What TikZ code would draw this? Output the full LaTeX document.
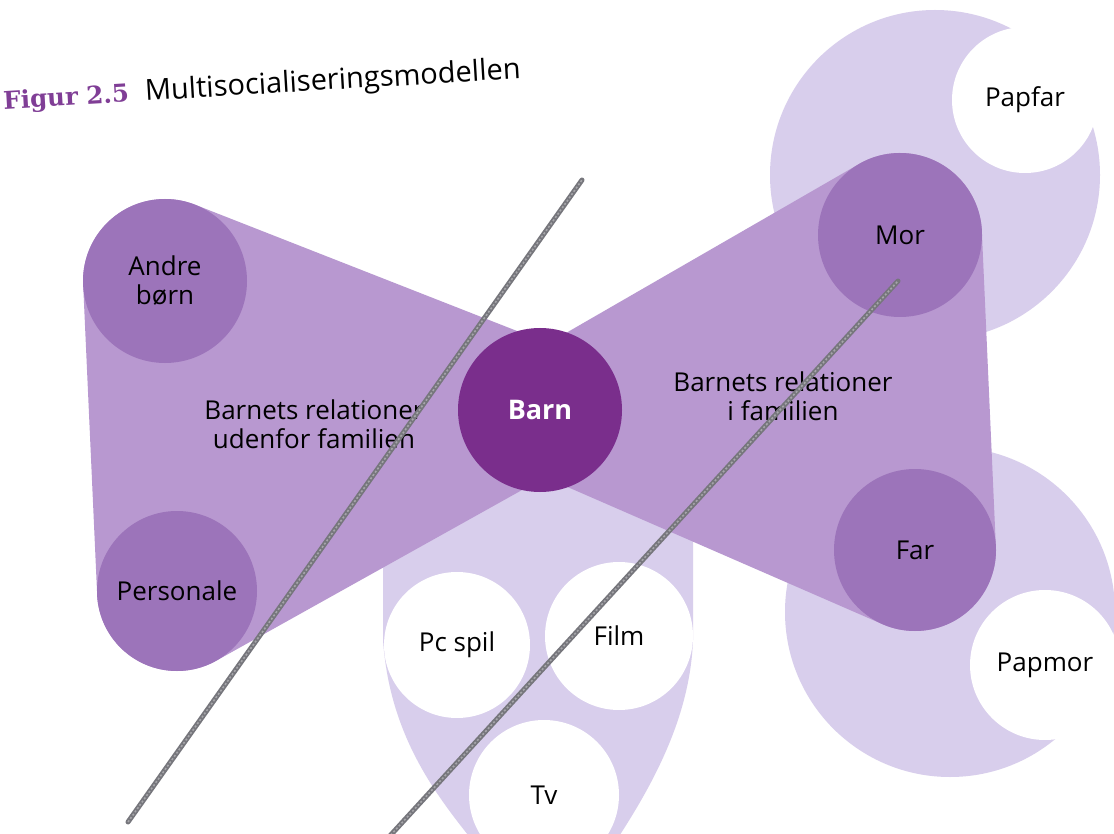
\documentclass[tikz,border=0pt]{standalone}
\usepackage{fontspec}
\setmainfont{Open Sans}
\newfontfamily\figurfont{DejaVu Serif}
\usepackage{tikz}
\usetikzlibrary{calc,positioning}
\definecolor{trapez}{RGB}{184,152,208}
\definecolor{relc}{RGB}{156,116,186}
\definecolor{barnc}{RGB}{122,46,140}
\definecolor{lysc}{RGB}{216,206,236}
\definecolor{figurc}{RGB}{128,62,150}
\definecolor{blyantc}{RGB}{118,118,124}
\tikzset{
rel_tekst/.style = {align=center, font=\fontsize{26}{29}\selectfont, text=black},
rel_c/.style = {rel_tekst, circle, fill=relc, inner sep=0pt},% relation, mellem lilla
barn_c/.style = {circle, fill=barnc, text=white, font=\fontsize{27}{30}\selectfont\bfseries, inner sep=0pt},% barnet i midten
lys_c/.style = {circle, fill=lysc, inner sep=0pt},% lys halvmaane
hvid_c/.style = {rel_tekst, circle, fill=white, inner sep=0pt},% hvid cirkel
blyant/.style = {draw=blyantc, line width=5pt, line cap=round},% blyantsstreg
blyant_lys/.style = {draw=white!35!blyantc, line width=1.6pt, dash pattern=on 2pt off 2pt}% lys streg i midten
}
\begin{document}
\begin{tikzpicture}[x=1pt,y=-1pt]
  \useasboundingbox[fill=white] (0,0) rectangle (1114,834);
  \coordinate (andre_m) at (165,281);
  \coordinate (personale_m) at (177,591);
  \coordinate (barn_m) at (540,410);
  \coordinate (mor_m) at (900,235);
  \coordinate (far_m) at (915,550);
  \node[lys_c, minimum size=330pt] (papfar_b) at (935,175) {};
  \node[lys_c, minimum size=330pt] (papmor_b) at (950,612) {};
  \node[hvid_c, minimum size=146pt] (papfar) at (1025,100) {Papfar};
  \node[hvid_c, minimum size=150pt] (papmor) at (1045,665) {Papmor};
  \fill[lysc] (383,480) -- (383,640) .. controls (390,740) and (440,800) .. (480,850)
    -- (610,850) .. controls (650,790) and (690,720) .. (693,640) -- (693,480) -- cycle;
  \node[hvid_c, minimum size=146pt] (pcspil) at (457,645) {Pc spil};
  \node[hvid_c, minimum size=148pt] (film) at (619,636) {Film};
  \node[hvid_c, minimum size=150pt] (tv) at (544,795) {Tv};
  \fill[trapez] ($(barn_m)+(0,-70)$) -- ($(andre_m)+(68.6:82pt)$)
    arc[start angle=68.6, end angle=180, radius=82pt]
    -- ($(personale_m)+(180:80pt)$) arc[start angle=180, end angle=299.2, radius=80pt]
    -- ($(barn_m)+(0,70)$) -- cycle;
  \fill[trapez] ($(barn_m)+(0,-62)$) -- ($(mor_m)+(122:82pt)$)
    arc[start angle=122, end angle=0, radius=82pt]
    -- ($(far_m)+(0:81pt)$) arc[start angle=0, end angle=-113.5, radius=81pt]
    -- ($(barn_m)+(0,65)$) -- cycle;
  \node[rel_c, minimum size=164pt] (andre) at (andre_m) {Andre\\børn};
  \node[rel_c, minimum size=160pt] (personale) at (personale_m) {Personale};
  \node[rel_c, minimum size=164pt] (mor) at (mor_m) {Mor};
  \node[rel_c, minimum size=162pt] (far) at (far_m) {Far};
  \node[barn_c, minimum size=164pt] (barn) at (barn_m) {Barn};
  \node[rel_tekst] (udenfor) at (314,424) {Barnets relationer\\udenfor familien};
  \node[rel_tekst] (familien) at (783,396) {Barnets relationer\\i familien};
  \node[rotate=3.4, anchor=base west, font=\fontsize{29}{32}\selectfont, text=black] (titel) at (142,101) {Multisocialiseringsmodellen};
  \node[rotate=3.4, anchor=base east, font=\figurfont\fontsize{24.5}{28}\selectfont\bfseries, text=figurc] (figur) at ([xshift=-9pt,yshift=-0.5pt]titel.base west) {Figur 2.5};
  \coordinate (streg1_a) at (128,822);
  \coordinate (streg1_b) at (582,180);
  \coordinate (streg2_a) at (388,838);
  \coordinate (streg2_b) at (898,281);
  \draw[blyant] (streg1_a) -- (streg1_b);
  \draw[blyant] (streg2_a) -- (streg2_b);
  \draw[blyant_lys] (streg1_a) -- (streg1_b);
  \draw[blyant_lys] (streg2_a) -- (streg2_b);
\end{tikzpicture}
\end{document}
